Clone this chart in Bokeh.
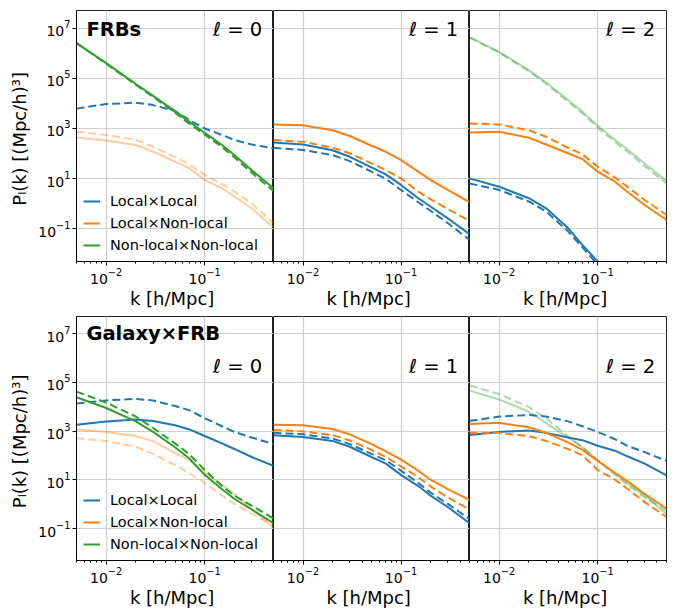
import numpy as np
from bokeh.plotting import figure
from bokeh.layouts import column, row
from bokeh.models import FixedTicker, Label, Legend, LegendItem
from bokeh.embed import file_html
from bokeh.resources import INLINE

# wavenumbers k [h/Mpc]
k = [0.005, 0.01, 0.02, 0.03, 0.05, 0.07, 0.1, 0.15, 0.2, 0.3, 0.5]
k_short = [0.005, 0.01, 0.02, 0.03, 0.05, 0.07, 0.1]

# ---- values are log10 P_l(k) ----
# FRBs, l = 0
frb0_LL_dash = [3.79, 3.97, 4.03, 3.93, 3.69, 3.33, 3.00, 2.74, 2.54, 2.36, 2.21]
frb0_LN_solid = [2.64, 2.52, 2.34, 2.07, 1.68, 1.41, 0.95, 0.62, 0.29, -0.18, -0.95]
frb0_LN_dash = [2.87, 2.74, 2.54, 2.27, 1.87, 1.57, 1.15, 0.79, 0.49, 0.02, -0.77]
frb0_NN_solid = [6.40, 5.60, 4.77, 4.30, 3.69, 3.26, 2.83, 2.34, 1.94, 1.34, 0.62]
frb0_NN_dash = [6.40, 5.58, 4.74, 4.26, 3.63, 3.19, 2.76, 2.26, 1.85, 1.24, 0.51]
# FRBs, l = 1
frb1_LN_solid = [3.16, 3.13, 2.93, 2.70, 2.31, 2.07, 1.74, 1.28, 0.95, 0.55, 0.06]
frb1_LN_dash = [2.54, 2.47, 2.23, 2.01, 1.61, 1.34, 1.01, 0.48, 0.18, -0.21, -0.68]
frb1_LL_solid = [2.44, 2.36, 2.13, 1.87, 1.45, 1.17, 0.75, 0.22, -0.11, -0.58, -1.21]
frb1_LL_dash = [2.23, 2.14, 1.94, 1.70, 1.28, 0.99, 0.55, 0.06, -0.28, -0.77, -1.44]
# FRBs, l = 2
frb2_NN_solid = [6.64, 6.05, 5.32, 4.83, 4.13, 3.67, 3.11, 2.55, 2.17, 1.60, 0.91]
frb2_NN_dash = [6.62, 6.02, 5.28, 4.78, 4.07, 3.60, 3.03, 2.46, 2.08, 1.50, 0.81]
frb2_LN_solid = [2.84, 2.87, 2.63, 2.36, 2.01, 1.78, 1.28, 0.88, 0.48, -0.05, -0.64]
frb2_LN_dash = [3.20, 3.16, 2.93, 2.67, 2.23, 1.97, 1.48, 1.04, 0.68, 0.15, -0.44]
frb2_LL_solid = [1.01, 0.68, 0.22, -0.18, -0.97, -1.64, -2.30]
frb2_LL_dash = [0.81, 0.55, 0.09, -0.31, -1.10, -1.74, -2.43]
# Galaxy x FRB, l = 0
gx0_LL_solid = [3.26, 3.40, 3.48, 3.42, 3.24, 3.07, 2.80, 2.50, 2.27, 1.94, 1.58]
gx0_LL_dash = [4.13, 4.26, 4.32, 4.26, 4.03, 3.86, 3.53, 3.20, 2.97, 2.74, 2.47]
gx0_NN_solid = [4.39, 3.95, 3.40, 2.97, 2.34, 1.88, 1.21, 0.62, 0.23, -0.21, -0.77]
gx0_NN_dash = [4.62, 4.17, 3.60, 3.13, 2.50, 2.05, 1.41, 0.75, 0.36, -0.05, -0.58]
gx0_LN_solid = [3.07, 2.97, 2.80, 2.58, 2.10, 1.81, 1.28, 0.81, 0.42, -0.18, -0.97]
gx0_LN_dash = [2.71, 2.60, 2.36, 2.07, 1.61, 1.28, 0.88, 0.36, 0.02, -0.38, -0.87]
# Galaxy x FRB, l = 1
gx1_LN_solid = [3.26, 3.24, 3.09, 2.87, 2.47, 2.17, 1.83, 1.38, 1.01, 0.62, 0.18]
gx1_LN_dash = [3.05, 2.99, 2.84, 2.62, 2.23, 1.94, 1.56, 1.11, 0.74, 0.28, -0.21]
gx1_LL_dash = [2.93, 2.87, 2.70, 2.47, 2.07, 1.81, 1.38, 0.88, 0.48, 0.02, -0.60]
gx1_LL_solid = [2.83, 2.76, 2.60, 2.36, 1.94, 1.67, 1.21, 0.75, 0.36, -0.11, -0.77]
# Galaxy x FRB, l = 2
gx2_NN_dash = [4.88, 4.52, 3.99, 3.52, 2.80, 2.34, 1.81, 1.21, 0.81, 0.28, -0.25]
gx2_NN_solid = [4.66, 4.30, 3.80, 3.33, 2.74, 2.34, 1.81, 1.28, 0.88, 0.35, -0.38]
gx2_LL_dash = [3.42, 3.60, 3.66, 3.60, 3.40, 3.20, 2.97, 2.67, 2.40, 2.14, 1.78]
gx2_LL_solid = [2.84, 2.97, 3.03, 2.93, 2.74, 2.63, 2.40, 2.20, 1.97, 1.67, 1.19]
gx2_LN_solid = [3.29, 3.34, 3.16, 2.93, 2.54, 2.23, 1.78, 1.28, 0.95, 0.42, -0.17]
gx2_LN_dash = [2.93, 2.93, 2.80, 2.60, 2.27, 2.01, 1.41, 1.01, 0.64, 0.09, -0.51]

legend_labels = ["Local×Local", "Local×Non-local", "Non-local×Non-local"]
x_major = [0.01, 0.1]
x_minor = [0.005, 0.006, 0.007, 0.008, 0.009, 0.02, 0.03, 0.04, 0.05, 0.06, 0.07,
           0.08, 0.09, 0.2, 0.3, 0.4, 0.5]
y_major = [1e-1, 1e1, 1e3, 1e5, 1e7]

BLUE, ORANGE, GREEN = "#1f77b4", "#ff7f0e", "#2ca02c"
FONT = "DejaVu Sans"
DASH = "8 4"
LW = 2


def make_fig(w, h, bl, br, bt, bb, show_y):
    p = figure(width=w, height=h, x_axis_type="log", y_axis_type="log",
               x_range=(5e-3, 0.5), y_range=(5e-3, 5e7),
               toolbar_location=None, output_backend="svg",
               min_border_left=bl, min_border_right=br,
               min_border_top=bt, min_border_bottom=bb)
    p.outline_line_color = "#222222"
    p.outline_line_width = 1
    p.outline_line_alpha = 1
    xt = FixedTicker(ticks=x_major, minor_ticks=x_minor)
    yt = FixedTicker(ticks=y_major, minor_ticks=[])
    p.xaxis.ticker = xt
    p.yaxis.ticker = yt
    p.xgrid.ticker = xt
    p.ygrid.ticker = yt
    for g in (p.xgrid, p.ygrid):
        g.grid_line_color = "#cfcfcf"
        g.grid_line_width = 1.2
    for ax in (p.xaxis, p.yaxis):
        ax.major_label_text_font = FONT
        ax.major_label_text_font_size = "14px"
        ax.major_label_text_color = "black"
        ax.axis_label_text_font = FONT
        ax.axis_label_text_font_size = "18px"
        ax.axis_label_text_font_style = "normal"
        ax.axis_label_text_color = "black"
        ax.axis_line_color = "black"
        ax.major_tick_line_color = "black"
        ax.minor_tick_line_color = "black"
        ax.major_tick_out = 4
        ax.major_tick_in = 0
        ax.minor_tick_out = 2
        ax.minor_tick_in = 0
        ax.major_label_standoff = 2
    p.xaxis.axis_label = "k  [h/Mpc]"
    p.xaxis.axis_label_standoff = 1
    if show_y:
        p.yaxis.axis_label = "Pₗ(k)  [(Mpc/h)³]"
        p.yaxis.axis_label_standoff = 5
    else:
        p.yaxis.visible = False
    return p


def curve(p, xs, logs, color, dashed=False, alpha=1.0):
    ys = np.power(10.0, np.array(logs, dtype=float))
    p.line(xs, ys, line_color=color, line_width=LW, line_alpha=alpha,
           line_dash=DASH if dashed else "solid")


def add_legend(p):
    items = []
    for lab, col in zip(legend_labels, [BLUE, ORANGE, GREEN]):
        # proxy line kept outside the visible range, used only for the legend swatch
        r = p.line([1e-5, 2e-5], [1e-9, 1e-9], line_color=col, line_width=LW)
        items.append(LegendItem(label=lab, renderers=[r]))
    leg = Legend(items=items, location=(7, 7), border_line_color=None,
                 background_fill_alpha=0, label_text_font=FONT,
                 label_text_font_size="14.5px", label_text_color="black",
                 glyph_width=17, glyph_height=18, label_height=18, spacing=4,
                 margin=0, padding=0, label_standoff=10)
    p.add_layout(leg)


def add_text(p, x, y, text, align, bold=False, size="19.5px"):
    p.add_layout(Label(x=x, y=y, text=text, text_align=align, text_baseline="middle",
                       text_font=FONT, text_font_size=size, text_color="black",
                       text_font_style="bold" if bold else "normal"))


# ---------- top row: FRBs ----------
TOP_H, BOT_H = 316, 294
f1 = make_fig(273, TOP_H, 76, 0, 10, 55, True)
f2 = make_fig(196, TOP_H, 0, 0, 10, 55, False)
f3 = make_fig(204, TOP_H, 0, 7, 10, 55, False)

curve(f1, k, frb0_LN_solid, ORANGE, alpha=0.4)
curve(f1, k, frb0_LN_dash, ORANGE, dashed=True, alpha=0.4)
curve(f1, k, frb0_LL_dash, BLUE, dashed=True)
curve(f1, k, frb0_NN_dash, GREEN, dashed=True)
curve(f1, k, frb0_NN_solid, GREEN)
add_legend(f1)
add_text(f1, 0.0063, 8.9e6, "FRBs", "left", bold=True)
add_text(f1, 0.384, 8.9e6, "ℓ = 0", "right")

curve(f2, k, frb1_LN_solid, ORANGE)
curve(f2, k, frb1_LN_dash, ORANGE, dashed=True)
curve(f2, k, frb1_LL_solid, BLUE)
curve(f2, k, frb1_LL_dash, BLUE, dashed=True)
add_text(f2, 0.384, 8.9e6, "ℓ = 1", "right")

curve(f3, k, frb2_NN_solid, GREEN, alpha=0.4)
curve(f3, k, frb2_NN_dash, GREEN, dashed=True, alpha=0.4)
curve(f3, k, frb2_LN_solid, ORANGE)
curve(f3, k, frb2_LN_dash, ORANGE, dashed=True)
curve(f3, k_short, frb2_LL_solid, BLUE)
curve(f3, k_short, frb2_LL_dash, BLUE, dashed=True)
add_text(f3, 0.384, 8.9e6, "ℓ = 2", "right")

# ---------- bottom row: Galaxy x FRB ----------
f4 = make_fig(273, BOT_H, 76, 0, 0, 43, True)
f5 = make_fig(196, BOT_H, 0, 0, 0, 43, False)
f6 = make_fig(204, BOT_H, 0, 7, 0, 43, False)

curve(f4, k, gx0_LN_solid, ORANGE, alpha=0.4)
curve(f4, k, gx0_LN_dash, ORANGE, dashed=True, alpha=0.4)
curve(f4, k, gx0_LL_solid, BLUE)
curve(f4, k, gx0_LL_dash, BLUE, dashed=True)
curve(f4, k, gx0_NN_solid, GREEN)
curve(f4, k, gx0_NN_dash, GREEN, dashed=True)
add_legend(f4)
add_text(f4, 0.0063, 1.0e7, "Galaxy×FRB", "left", bold=True)
add_text(f4, 0.384, 4.4e5, "ℓ = 0", "right")

curve(f5, k, gx1_LN_solid, ORANGE)
curve(f5, k, gx1_LN_dash, ORANGE, dashed=True)
curve(f5, k, gx1_LL_solid, BLUE)
curve(f5, k, gx1_LL_dash, BLUE, dashed=True)
add_text(f5, 0.384, 4.4e5, "ℓ = 1", "right")

curve(f6, k, gx2_NN_solid, GREEN, alpha=0.4)
curve(f6, k, gx2_NN_dash, GREEN, dashed=True, alpha=0.4)
curve(f6, k, gx2_LL_solid, BLUE)
curve(f6, k, gx2_LL_dash, BLUE, dashed=True)
curve(f6, k, gx2_LN_solid, ORANGE)
curve(f6, k, gx2_LN_dash, ORANGE, dashed=True)
add_text(f6, 0.384, 4.4e5, "ℓ = 2", "right")

layout = column(row(f1, f2, f3, spacing=0), row(f4, f5, f6, spacing=0), spacing=0)

open("out.html", "w").write(file_html(layout, INLINE))
